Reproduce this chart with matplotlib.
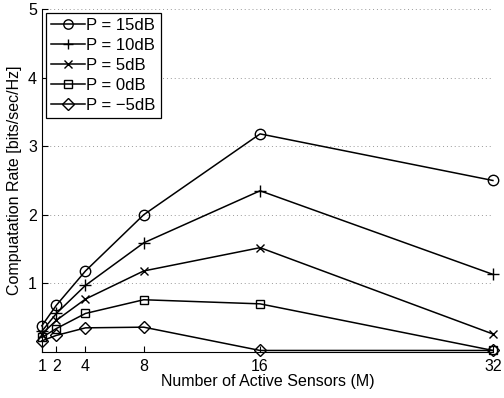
import numpy as np
import matplotlib.pyplot as plt

plt.rcParams['font.family'] = ['Liberation Sans', 'DejaVu Sans']

M = [1, 2, 4, 8, 16, 32]
rate_15dB = [0.38, 0.68, 1.18, 2.00, 3.18, 2.50]
rate_10dB = [0.30, 0.56, 0.97, 1.59, 2.35, 1.13]
rate_5dB = [0.26, 0.46, 0.77, 1.18, 1.52, 0.26]
rate_0dB = [0.21, 0.34, 0.56, 0.76, 0.70, 0.02]
rate_m5dB = [0.16, 0.24, 0.35, 0.36, 0.02, 0.02]

series = [
    (rate_15dB, 'o', 'P = 15dB'),
    (rate_10dB, '+', 'P = 10dB'),
    (rate_5dB, 'x', 'P = 5dB'),
    (rate_0dB, 's', 'P = 0dB'),
    (rate_m5dB, 'D', 'P = \u22125dB'),
]

fig = plt.figure(figsize=(5.04, 3.98), dpi=100)
ax = fig.add_axes([0.083, 0.116, 0.895, 0.861])

sizes = {'o': 7.5, '+': 8, 'x': 6, 's': 6, 'D': 6.5}
for vals, mk, lab in series:
    ax.plot(M, vals, color='black', lw=1.1, marker=mk, ms=sizes[mk],
            mfc='none', mec='black', mew=1.0, label=lab, clip_on=False)

ax.set_xlim(1, 32)
ax.set_ylim(0, 5)
ax.set_xticks(M)
ax.set_yticks([1, 2, 3, 4, 5])
ax.yaxis.grid(True, linestyle=(0, (1, 3)), color='#999999', lw=0.7)
ax.spines['top'].set_visible(False)
ax.spines['right'].set_visible(False)
ax.tick_params(direction='in', labelsize=11.5, length=4)
ax.tick_params(axis='x', pad=5)

ax.set_xlabel('Number of Active Sensors (M)', fontsize=11.5, labelpad=0)
ax.set_ylabel('Compuatation Rate [bits/sec/Hz]', fontsize=11.5, labelpad=4)

leg = ax.legend(loc='upper left', fontsize=12, handlelength=2.0,
                handletextpad=0.1, borderpad=0.3, labelspacing=0.3,
                markerscale=0.9, fancybox=False, framealpha=1,
                edgecolor='black', bbox_to_anchor=(0.01, 0.988),
                borderaxespad=0)
leg.get_frame().set_linewidth(0.9)

fig.savefig('out.png', dpi=100)
